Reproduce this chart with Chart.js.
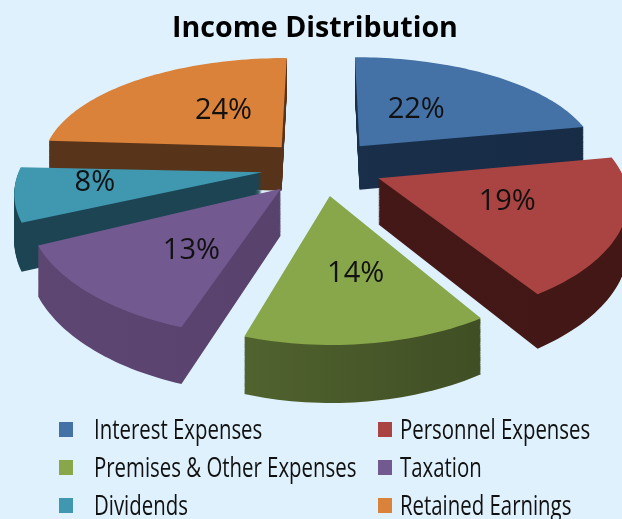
<!DOCTYPE html>
<html>
<head>
<meta charset="utf-8">
<title>Income Distribution</title>
<script src="https://cdn.jsdelivr.net/npm/chart.js@4"></script>
<style>
    html, body { margin: 0; padding: 0; width: 622px; height: 519px; overflow: hidden; background: #dff1fc; }
    canvas { position: absolute; left: 0; top: 0; }
    #legend { position: absolute; left: 0; top: 0; font-family: "Open Sans", sans-serif; font-size: 27px; color: #111; }
    #legend div { position: absolute; white-space: nowrap; line-height: 38px; height: 38px; }
    #legend span { display: inline-block; transform: scaleX(0.755); transform-origin: left center; }
    #legend i { position: absolute; top: 12px; width: 14px; height: 15px; }
</style>
</head>
<body>
<canvas id="pie" width="622" height="519"></canvas>
<div id="legend"></div>
<script>
const categories = ['Interest Expenses', 'Personnel Expenses', 'Premises & Other Expenses', 'Taxation', 'Dividends', 'Retained Earnings'];
const shares = [22, 19, 14, 13, 8, 24];
const topColors = ['#4472a6', '#a94442', '#88a64a', '#725990', '#3f97b0', '#da823a'];
const wallLeft = ['#1b3350', '#47191a', '#5f7537', '#5e4673', '#1c4452', '#58341a'];
const wallRight = ['#172b45', '#431716', '#37431f', '#503e64', '#1c4452', '#55321a'];

const explode = [100, 100, 100, 100, 100, 100]; // chart.js divise par 4
const sliceReach = [1, 1, 0.985, 1, 1, 1];
const labelReach = [0.45, 0.54, 0.57, 0.57, 0.68, 0.455];
const labelTurn = [-4, -2, -2, -7, 3, 7]; // degres
const paintOrder = [5, 0, 4, 1, 3, 2]; // du fond vers l'avant

// camera sur le plan du camembert
const view = { cx: 322, cy: 167, fx: 242, fy: 112, distX: 6.8, distY: 5.5, depth: 45 };

function project(u, v, lift) {
    const wx = 1 - v / view.distX;
    const wy = 1 - v / view.distY;
    return {
        x: view.cx + view.fx * u / wx,
        y: view.cy + view.fy * v / wy + lift * view.depth / wy
    };
}

// faux contexte donne a arc.draw : il recoit le trace plat et le redessine en perspective
function tiltedContext(ctx, arc, i, lift) {
    const R = arc.outerRadius;
    const maxR = R * sliceReach[i];
    let ox = 0, oy = 0;
    const put = (x, y) => {
        // chart.js gonfle le rayon des petites parts quand il y a un offset : on le ramene
        const dx = x - arc.x, dy = y - arc.y;
        const d = Math.hypot(dx, dy);
        const k = d > 0 ? maxR / d : 0;
        const p = project((dx * k + ox) / R, (dy * k + oy) / R, lift);
        ctx.lineTo(p.x, p.y);
    };
    return {
        save() {},
        restore() {},
        translate(x, y) { ox += x; oy += y; },
        setLineDash() {},
        beginPath() { ctx.beginPath(); },
        closePath() { ctx.closePath(); },
        moveTo: put,
        lineTo: put,
        arc(x, y, r, a0, a1, ccw) {
            if (!(r > 0)) return;
            let sweep = a1 - a0;
            if (ccw && sweep > 0) sweep -= Math.PI * 2;
            const steps = Math.max(2, Math.ceil(Math.abs(sweep) * 40));
            for (let j = 0; j <= steps; j++) {
                const a = a0 + sweep * j / steps;
                put(x + r * Math.cos(a), y + r * Math.sin(a));
            }
        },
        fill() { ctx.fill(); },
        stroke() {}
    };
}

const tiltedPie = {
    id: 'tiltedPie',
    beforeDatasetsDraw(chart) {
        const ctx = chart.ctx;
        const arcs = chart.getDatasetMeta(0).data;
        ctx.save();
        paintOrder.forEach(i => {
            const arc = arcs[i];
            const left = project(-1.2, 0, 0).x, right = project(1.2, 0, 0).x;
            const grad = ctx.createLinearGradient(left, 0, right, 0);
            grad.addColorStop(0, wallLeft[i]);
            grad.addColorStop(1, wallRight[i]);
            ctx.fillStyle = grad;
            for (let t = 1; t > 0; t -= 0.02) {
                arc.draw(tiltedContext(ctx, arc, i, t));
            }
            ctx.fillStyle = topColors[i];
            arc.draw(tiltedContext(ctx, arc, i, 0));
        });
        ctx.fillStyle = '#111';
        ctx.font = '29px "Open Sans"';
        ctx.textAlign = 'center';
        ctx.textBaseline = 'middle';
        arcs.forEach((arc, i) => {
            const mid = (arc.startAngle + arc.endAngle) / 2;
            const shift = explode[i] / 4 / arc.outerRadius;
            const aim = mid + labelTurn[i] * Math.PI / 180;
            const p = project(
                Math.cos(mid) * shift + Math.cos(aim) * labelReach[i],
                Math.sin(mid) * shift + Math.sin(aim) * labelReach[i],
                0
            );
            ctx.fillText(shares[i] + '%', p.x, p.y);
        });
        ctx.restore();
        return false;
    }
};

new Chart(document.getElementById('pie'), {
    type: 'pie',
    plugins: [tiltedPie],
    data: {
        labels: categories,
        datasets: [{
            data: shares,
            backgroundColor: topColors,
            borderWidth: 0,
            offset: explode,
            radius: 100
        }]
    },
    options: {
        responsive: false,
        animation: false,
        events: [],
        layout: { padding: { left: 8 } },
        plugins: {
            legend: { display: false },
            tooltip: { enabled: false },
            title: {
                display: true,
                text: 'Income Distribution',
                color: '#000',
                font: { family: '"Open Sans"', size: 28.6, weight: 'bold' },
                padding: { top: 12, bottom: 0 }
            }
        }
    }
});

// legende en deux colonnes
const legendBox = document.getElementById('legend');
categories.forEach((name, i) => {
    const row = document.createElement('div');
    row.style.left = (i % 2 ? 400 : 94) + 'px';
    row.style.top = (410 + Math.floor(i / 2) * 38) + 'px';
    const text = document.createElement('span');
    text.textContent = name;
    row.appendChild(text);
    const box = document.createElement('i');
    box.style.background = topColors[i];
    box.style.left = i % 2 ? '-22px' : '-35px';
    row.appendChild(box);
    legendBox.appendChild(row);
});
</script>
</body>
</html>
